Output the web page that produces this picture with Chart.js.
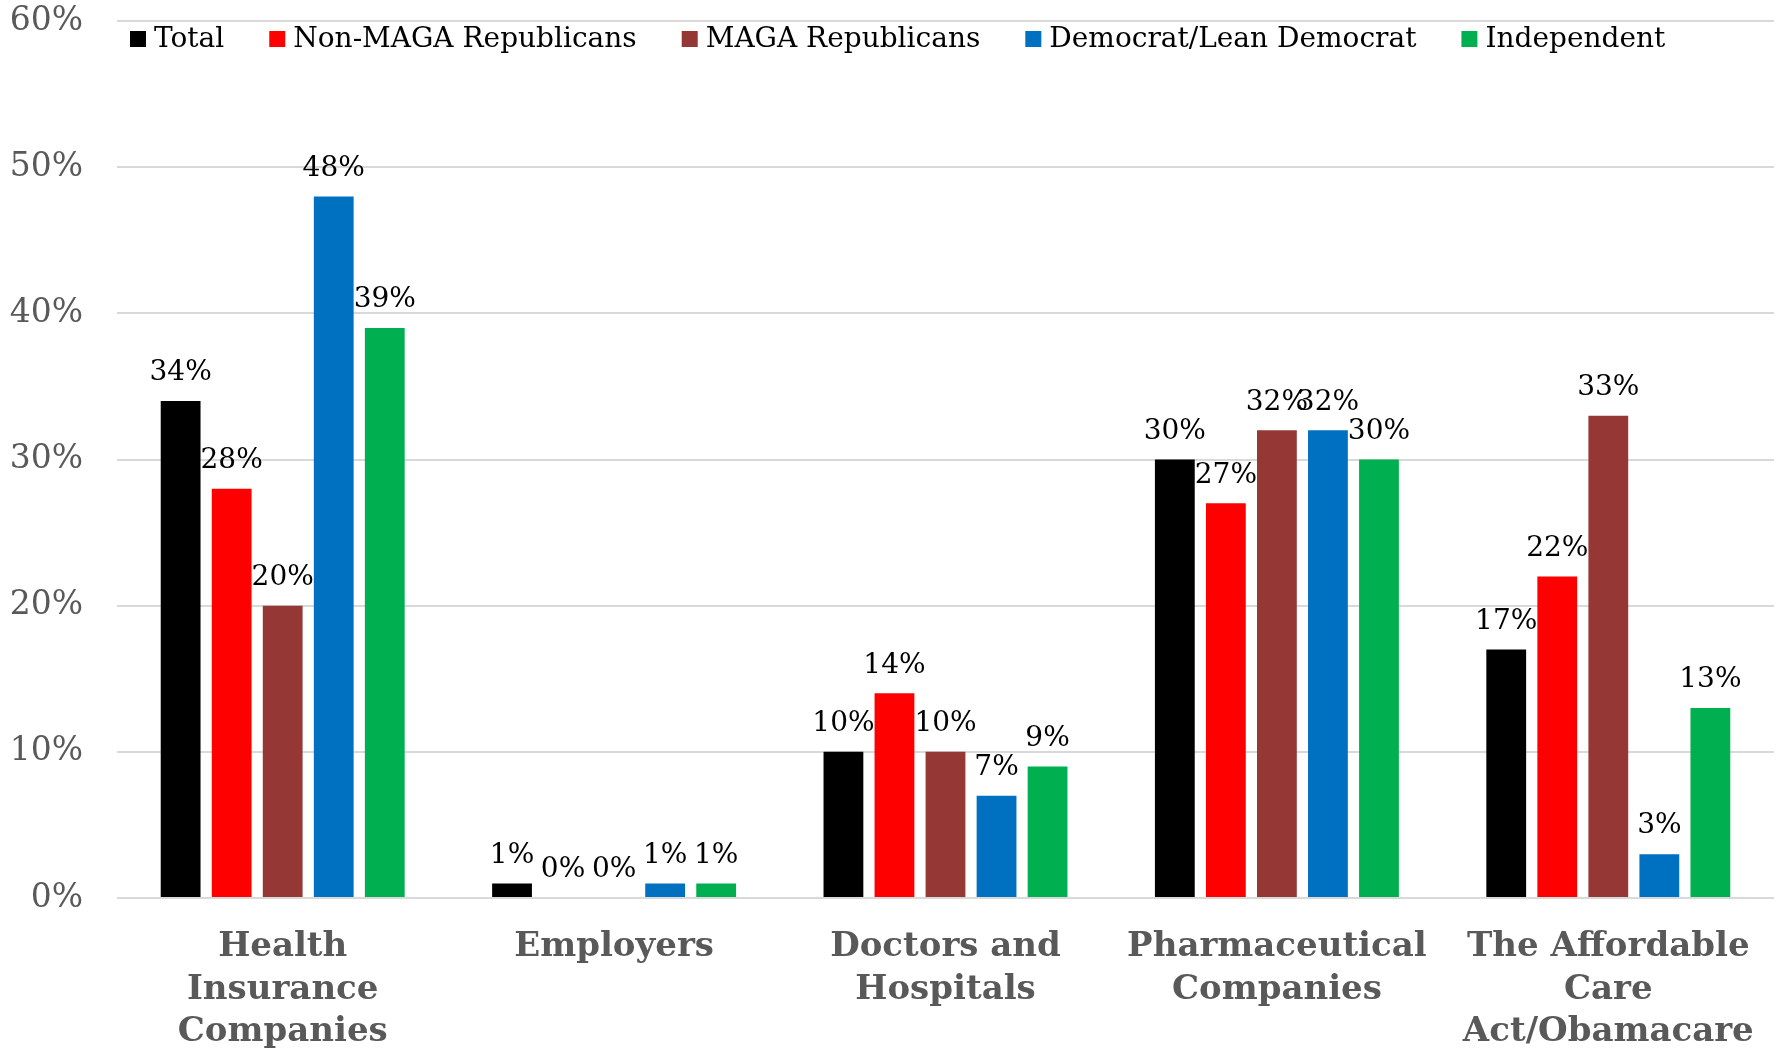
<!DOCTYPE html>
<html>
<head>
<meta charset="utf-8">
<script src="https://cdn.jsdelivr.net/npm/chart.js@4.4.1/dist/chart.umd.min.js"></script>
<style>
    body { margin: 0; background: #ffffff; }
    #graphique { display: block; }
</style>
</head>
<body>
<canvas id="graphique" width="1777" height="1048"></canvas>
<script>
let categories = [
    ["Health", "Insurance", "Companies"],
    ["Employers"],
    ["Doctors and", "Hospitals"],
    ["Pharmaceutical", "Companies"],
    ["The Affordable", "Care", "Act/Obamacare"]
];
let total = [34, 1, 10, 30, 17];
let nonMaga = [28, 0, 14, 27, 22];
let maga = [20, 0, 10, 32, 33];
let democrates = [48, 1, 7, 32, 3];
let independants = [39, 1, 9, 30, 13];
let graduations = [0, 10, 20, 30, 40, 50, 60];

let police = "'DejaVu Serif', 'Liberation Serif', serif";

// etiquettes au-dessus des barres
let etiquettes = {
    id: 'etiquettes',
    afterDatasetsDraw(chart) {
        let ctx = chart.ctx;
        ctx.save();
        ctx.font = "28px " + police;
        ctx.fillStyle = "#000000";
        ctx.textAlign = "center";
        ctx.textBaseline = "middle";
        chart.data.datasets.forEach(function (ds, i) {
            chart.getDatasetMeta(i).data.forEach(function (barre, j) {
                ctx.fillText(ds.data[j] + "%", barre.x, barre.y - 28);
            });
        });
        ctx.restore();
    }
};

// legende dessinee dans la zone du graphique, sur une ligne
let legende = {
    id: 'legende',
    afterDraw(chart) {
        let ctx = chart.ctx;
        let x = chart.chartArea.left + 13;
        let y = chart.chartArea.top + 18;
        ctx.save();
        ctx.font = "28px " + police;
        ctx.textBaseline = "middle";
        ctx.textAlign = "left";
        chart.data.datasets.forEach(function (ds) {
            ctx.fillStyle = ds.backgroundColor;
            ctx.fillRect(x, y - 8, 16, 16);
            ctx.fillStyle = "#000000";
            ctx.fillText(ds.label, x + 24, y + 1);
            x += 24 + ctx.measureText(ds.label).width + 45;
        });
        ctx.restore();
    }
};

function serie(nom, valeurs, couleur) {
    return {
        label: nom,
        data: valeurs,
        backgroundColor: couleur,
        borderWidth: 0,
        categoryPercentage: 0.77,
        barPercentage: 0.78
    };
}

let cvs = document.getElementById('graphique').getContext('2d');
let graphique = new Chart(cvs, {
    type: 'bar',
    data: {
        labels: categories,
        datasets: [
            serie("Total", total, "#000000"),
            serie("Non-MAGA Republicans", nonMaga, "#FF0000"),
            serie("MAGA Republicans", maga, "#953735"),
            serie("Democrat/Lean Democrat", democrates, "#0070C0"),
            serie("Independent", independants, "#00B050")
        ]
    },
    options: {
        responsive: false,
        devicePixelRatio: 1,
        animation: false,
        layout: { padding: { top: 0, right: 3, bottom: 0, left: 0 } },
        plugins: {
            tooltip: { enabled: false },
            legend: { display: false }
        },
        scales: {
            x: {
                grid: { display: false },
                border: { display: false },
                afterFit: function (axe) { axe.height = 150; },
                ticks: {
                    color: "#595959",
                    padding: 20,
                    maxRotation: 0,
                    autoSkip: false,
                    font: { family: police, size: 34, weight: 'bold', lineHeight: 1.25 }
                }
            },
            y: {
                min: 0,
                max: 60,
                border: { display: false },
                grid: { color: "#d9d9d9", lineWidth: 2, drawTicks: false },
                afterFit: function (axe) {
                    axe.width = 117;
                    axe.paddingTop = 21;
                    axe.paddingBottom = 0;
                },
                afterBuildTicks: function (axe) {
                    axe.ticks = graduations.map(function (v) { return { value: v }; });
                },
                ticks: {
                    color: "#595959",
                    padding: 34,
                    font: { family: police, size: 33 },
                    callback: function (v) { return v + "%"; }
                }
            }
        }
    },
    plugins: [etiquettes, legende]
});
</script>
</body>
</html>
